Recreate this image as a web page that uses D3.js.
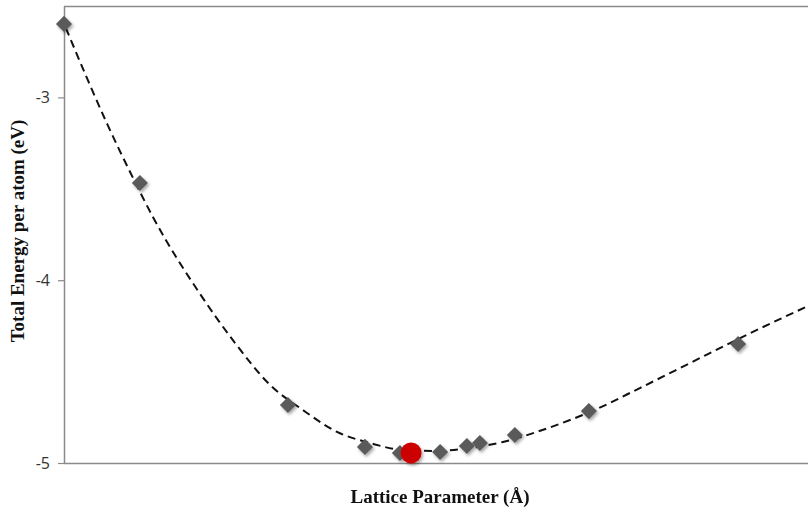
<!DOCTYPE html>
<html>
<head>
<meta charset="utf-8">
<script src="https://cdn.jsdelivr.net/npm/d3@7"></script>
<style>
  body { margin: 0; background: #fff; }
  svg { display: block; }
</style>
</head>
<body>
<script>
// lattice parameter (Å) and total energy per atom (eV)
const latticeParams = [3.000, 3.204, 3.602, 3.809, 3.903, 4.011, 4.083, 4.118, 4.212, 4.411, 4.812];
const energies = [-2.598, -3.468, -4.683, -4.912, -4.945, -4.940, -4.907, -4.891, -4.847, -4.716, -4.349];

// equilibrium point (red marker)
const minLattice = [3.933];
const minEnergy = [-4.945];

// dashed trend line
const trendX = [3.005, 3.065, 3.116, 3.191, 3.239, 3.366, 3.460, 3.554, 3.642, 3.734, 3.823, 3.911,
                4.003, 4.091, 4.180, 4.271, 4.360, 4.414, 4.548, 4.683, 4.812, 5.000];
const trendY = [-2.620, -2.910, -3.145, -3.463, -3.654, -4.076, -4.344, -4.573, -4.710, -4.830, -4.891, -4.929,
                -4.934, -4.918, -4.885, -4.830, -4.765, -4.721, -4.590, -4.453, -4.322, -4.141];

const yTicks = [-5, -4, -3];

const width = 808, height = 511;
const margin = {top: 6, right: 0, bottom: 48, left: 64};

const svg = d3.select("body").append("svg")
    .attr("width", width)
    .attr("height", height);

const defs = svg.append("defs");
const shadow = defs.append("filter").attr("id", "shadow")
    .attr("x", "-50%").attr("y", "-50%").attr("width", "200%").attr("height", "200%");
shadow.append("feDropShadow")
    .attr("dx", 1.5).attr("dy", 2).attr("stdDeviation", 1.8)
    .attr("flood-color", "#000").attr("flood-opacity", 0.35);

const x = d3.scaleLinear().domain([3.0, 5.0]).range([margin.left, width - margin.right]);
const y = d3.scaleLinear().domain([-5, -2.5]).range([height - margin.bottom, margin.top]);

// top frame line
svg.append("line")
    .attr("x1", margin.left).attr("x2", width)
    .attr("y1", y(-2.5) + 0.5).attr("y2", y(-2.5) + 0.5)
    .attr("stroke", "#8a8a8a").attr("stroke-width", 1.5);

// bottom axis (no ticks)
svg.append("line")
    .attr("x1", margin.left).attr("x2", width)
    .attr("y1", y(-5) + 0.5).attr("y2", y(-5) + 0.5)
    .attr("stroke", "#8a8a8a").attr("stroke-width", 1.5);

// left axis
const yAxis = svg.append("g")
    .attr("transform", `translate(${margin.left},0)`)
    .call(d3.axisLeft(y).tickValues(yTicks).tickFormat(d => d.toString()).tickSize(6).tickSizeOuter(0).tickPadding(8));
yAxis.select(".domain").attr("stroke", "#8a8a8a").attr("stroke-width", 1.5);
yAxis.selectAll(".tick line").attr("stroke", "#8a8a8a").attr("stroke-width", 1.2);
yAxis.selectAll(".tick text")
    .attr("fill", "#333")
    .style("font-family", "'Open Sans', 'DejaVu Sans', sans-serif")
    .style("font-size", "16px");

// trend line
const trend = trendX.map((d, i) => [d, trendY[i]]);
svg.append("path")
    .datum(trend)
    .attr("fill", "none")
    .attr("stroke", "#111")
    .attr("stroke-width", 2)
    .attr("stroke-dasharray", "8,5")
    .attr("d", d3.line().x(d => x(d[0])).y(d => y(d[1])).curve(d3.curveMonotoneX));

// diamonds
const points = latticeParams.map((d, i) => ({a: d, e: energies[i]}));
svg.append("g")
    .attr("filter", "url(#shadow)")
    .selectAll("path")
    .data(points)
    .join("path")
    .attr("transform", d => `translate(${x(d.a)},${y(d.e)})`)
    .attr("d", d3.symbol(d3.symbolDiamond2, 165)())
    .attr("fill", "#5a5a5a");

// equilibrium marker
svg.append("g")
    .attr("filter", "url(#shadow)")
    .selectAll("circle")
    .data(minLattice.map((d, i) => ({a: d, e: minEnergy[i]})))
    .join("circle")
    .attr("cx", d => x(d.a))
    .attr("cy", d => y(d.e))
    .attr("r", 10.5)
    .attr("fill", "#cc0000");

// axis titles
svg.append("text")
    .attr("x", 440).attr("y", 503)
    .attr("text-anchor", "middle")
    .style("font-family", "'Liberation Serif', 'Times New Roman', serif")
    .style("font-weight", "bold")
    .style("font-size", "19px")
    .attr("fill", "#111")
    .text("Lattice Parameter (Å)");

svg.append("text")
    .attr("transform", "translate(24,231) rotate(-90)")
    .attr("text-anchor", "middle")
    .style("font-family", "'Liberation Serif', 'Times New Roman', serif")
    .style("font-weight", "bold")
    .style("font-size", "19px")
    .attr("fill", "#111")
    .text("Total Energy per atom (eV)");
</script>
</body>
</html>
